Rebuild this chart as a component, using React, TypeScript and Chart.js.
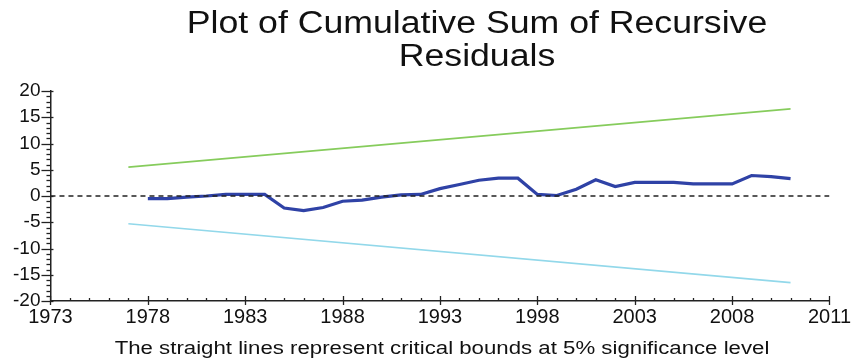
import React, { useEffect, useRef } from 'react';
import { Chart, registerables } from 'chart.js';

Chart.register(...registerables);

const titleLines = ['Plot of Cumulative Sum of Recursive', 'Residuals'];
const footnote = 'The straight lines represent critical bounds at 5% significance level';

const xTickLabels = ['1973', '1978', '1983', '1988', '1993', '1998', '2003', '2008', '2011'];
const xMin = 1973;
const xMax = 2013;
const xMajorStep = 5;
const yTickValues = [-20, -15, -10, -5, 0, 5, 10, 15, 20];

const years = [
  1978, 1979, 1980, 1981, 1982, 1983, 1984, 1985, 1986, 1987, 1988, 1989,
  1990, 1991, 1992, 1993, 1994, 1995, 1996, 1997, 1998, 1999, 2000, 2001,
  2002, 2003, 2004, 2005, 2006, 2007, 2008, 2009, 2010, 2011,
];
const cusum = [
  -0.5, -0.5, -0.2, 0.0, 0.3, 0.3, 0.3, -2.3, -2.8, -2.2, -1.0, -0.8,
  -0.2, 0.2, 0.3, 1.4, 2.2, 3.0, 3.4, 3.4, 0.3, 0.1, 1.3, 3.1,
  1.8, 2.6, 2.6, 2.6, 2.3, 2.3, 2.3, 3.9, 3.7, 3.3,
];
const boundYears = [1977, 2011];
const upperBound = [5.5, 16.6];
const lowerBound = [-5.3, -16.5];
const zeroYears = [1973, 2013];
const zeroLine = [0, 0];

const FONT = '"Liberation Sans", Arial, sans-serif';

const toPoints = (xs: number[], ys: number[]) => xs.map((x, i) => ({ x, y: ys[i] }));

const drawStretched = (ctx: any, text: string, cx: number, baseline: number, size: number, sx: number) => {
  ctx.save();
  ctx.translate(cx, baseline);
  ctx.scale(sx, 1);
  ctx.font = `${size}px ${FONT}`;
  ctx.fillStyle = '#111';
  ctx.textAlign = 'center';
  ctx.textBaseline = 'alphabetic';
  ctx.fillText(text, 0, 0);
  ctx.restore();
};

const textPlugin = {
  id: 'stretchedText',
  afterDraw(chart: any) {
    const { ctx } = chart;
    drawStretched(ctx, titleLines[0], 477, 33, 31, 1.15);
    drawStretched(ctx, titleLines[1], 477, 66, 31, 1.15);
    drawStretched(ctx, footnote, 442, 354, 17.5, 1.27);
  },
};

const axisTicksPlugin = {
  id: 'axisTicks',
  afterDraw(chart: any) {
    const { ctx, chartArea, scales } = chart;
    const xs = scales.x;
    const ys = scales.y;
    ctx.save();
    ctx.strokeStyle = '#222';
    ctx.lineWidth = 1.3;
    const yb = chartArea.bottom;
    for (let v = xMin; v <= xMax; v += 1) {
      const px = Math.round(xs.getPixelForValue(v)) + 0.5;
      const major = (v - xMin) % xMajorStep === 0;
      ctx.beginPath();
      if (major) {
        ctx.moveTo(px, yb - 5);
        ctx.lineTo(px, yb + 4);
      } else {
        ctx.moveTo(px, yb - 3);
        ctx.lineTo(px, yb);
      }
      ctx.stroke();
    }
    const xl = chartArea.left;
    for (let v = yTickValues[0]; v <= yTickValues[yTickValues.length - 1]; v += 1) {
      const py = Math.round(ys.getPixelForValue(v)) + 0.5;
      const major = yTickValues.includes(v);
      ctx.beginPath();
      if (major) {
        ctx.moveTo(xl - 9, py);
        ctx.lineTo(xl + 3, py);
      } else {
        ctx.moveTo(xl - 4, py);
        ctx.lineTo(xl, py);
      }
      ctx.stroke();
    }
    ctx.restore();
  },
};

export default function App() {
  const canvasRef = useRef<HTMLCanvasElement | null>(null);

  useEffect(() => {
    if (!canvasRef.current) return;
    const chart = new Chart(canvasRef.current, {
      type: 'line',
      data: {
        datasets: [
          {
            label: 'Zero',
            data: toPoints(zeroYears, zeroLine),
            borderColor: '#222',
            borderWidth: 1.3,
            borderDash: [5, 4],
            pointRadius: 0,
            fill: false,
          },
          {
            label: 'Upper bound',
            data: toPoints(boundYears, upperBound),
            borderColor: '#86cc5c',
            borderWidth: 1.6,
            pointRadius: 0,
            fill: false,
          },
          {
            label: 'Lower bound',
            data: toPoints(boundYears, lowerBound),
            borderColor: '#92d8ea',
            borderWidth: 1.6,
            pointRadius: 0,
            fill: false,
          },
          {
            label: 'CUSUM',
            data: toPoints(years, cusum),
            borderColor: '#2f42a6',
            borderWidth: 3.2,
            pointRadius: 0,
            tension: 0,
            fill: false,
          },
        ],
      },
      options: {
        responsive: false,
        animation: false,
        layout: { padding: { left: 3, right: 0, top: 91, bottom: 28 } },
        plugins: {
          legend: { display: false },
          tooltip: { enabled: false },
          title: { display: false },
        },
        scales: {
          x: {
            type: 'linear',
            min: xMin,
            max: xMax,
            afterBuildTicks: (scale: any) => {
              scale.ticks = xTickLabels.map((_, i) => ({ value: xMin + i * xMajorStep }));
            },
            ticks: {
              autoSkip: false,
              maxRotation: 0,
              padding: 4,
              color: '#111',
              font: { family: FONT, size: 20 },
              callback: (_v: any, i: number) => xTickLabels[i],
            },
            grid: { display: false, drawTicks: false },
            border: { display: true, color: '#222', width: 1.5 },
          },
          y: {
            type: 'linear',
            min: -20,
            max: 20,
            afterBuildTicks: (scale: any) => {
              scale.ticks = yTickValues.map((v) => ({ value: v }));
            },
            ticks: {
              padding: 10,
              color: '#111',
              font: { family: FONT, size: 19 },
              callback: (v: any) => String(v),
            },
            grid: { display: false, drawTicks: false },
            border: { display: true, color: '#222', width: 1.5 },
          },
        },
      },
      plugins: [axisTicksPlugin, textPlugin],
    });
    return () => chart.destroy();
  }, []);

  return (
    <div style={{ position: 'absolute', left: 0, top: 0, width: 855, height: 361, background: '#fff' }}>
      <canvas ref={canvasRef} width={855} height={361} />
    </div>
  );
}
